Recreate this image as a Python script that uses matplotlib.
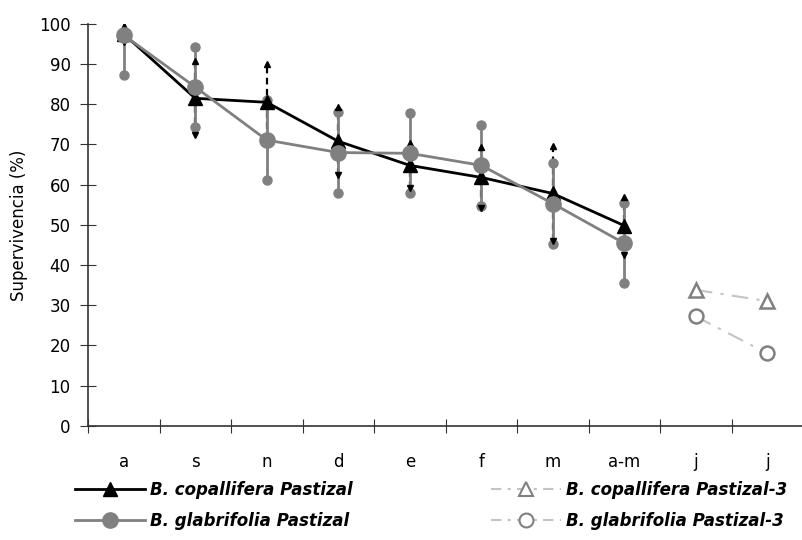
import matplotlib.pyplot as plt
from matplotlib.lines import Line2D

# datos
meses = ['a', 's', 'n', 'd', 'e', 'f', 'm', 'a-m', 'j', 'j']
cop = [97.5, 81.5, 80.5, 70.8, 64.8, 61.8, 57.8, 49.8]
cop_err = [2.0, 9.2, 9.5, 8.5, 5.6, 7.5, 11.8, 7.2]
glab = [97.2, 84.3, 71.1, 68.0, 67.8, 64.8, 55.3, 45.4]
glab_err = [10.0, 10.0, 10.0, 10.0, 10.0, 10.0, 10.0, 10.0]
cop3 = [33.8, 31.0]
glab3 = [27.2, 18.0]

x = list(range(len(meses)))
x1 = x[:8]
x3 = x[8:]

plt.rcParams['font.family'] = 'DejaVu Sans'

fig = plt.figure(figsize=(8.03, 5.40), dpi=100)
ax = fig.add_axes([0.1096, 0.2117, 0.8904, 0.7439])

negro = 'black'
gris = '#808080'
gris_claro = '#c4c4c4'

# B. copallifera Pastizal: barras discontinuas con flechas
eb = ax.errorbar(x1, cop, yerr=cop_err, fmt='none', ecolor=negro,
                 elinewidth=1.6, capsize=0, zorder=2)
eb[2][0].set_linestyle((0, (3, 2)))

# B. glabrifolia Pastizal: barras continuas con puntos
ax.errorbar(x1, glab, yerr=glab_err, fmt='none', ecolor=gris,
            elinewidth=2, capsize=0, zorder=3)
ax.plot(x1, [v + e for v, e in zip(glab, glab_err)], 'o', color=gris, ms=6.5, zorder=3)
ax.plot(x1, [v - e for v, e in zip(glab, glab_err)], 'o', color=gris, ms=6.5, zorder=3)

ax.plot(x1, [v + e for v, e in zip(cop, cop_err)], '^', color=negro, ms=4.5, zorder=3.5)
ax.plot(x1, [v - e for v, e in zip(cop, cop_err)], 'v', color=negro, ms=4.5, zorder=3.5)
ax.plot(x1, cop, '-^', color=negro, lw=2, ms=10, zorder=4)
ax.plot(x1, glab, '-o', color=gris, lw=2, ms=11, zorder=5)

# Pastizal-3
ax.plot(x3, cop3, linestyle=(0, (8, 4, 1.5, 4)), color=gris_claro, lw=1.5, zorder=2)
ax.plot(x3, cop3, '^', mfc='white', mec=gris, mew=1.8, ms=10, zorder=3)
ax.plot(x3, glab3, linestyle=(0, (8, 4, 1.5, 4)), color=gris_claro, lw=1.5, zorder=2)
ax.plot(x3, glab3, 'o', mfc='white', mec=gris, mew=1.8, ms=10, zorder=3)

ax.set_xlim(-0.5, len(meses) - 0.5)
ax.set_ylim(0, 100)
ax.set_yticks(range(0, 101, 10))
ax.set_xticks([i - 0.5 for i in range(len(meses) + 1)], minor=False)
ax.set_xticklabels([])
ax.set_xticks(x, minor=True)
ax.set_xticklabels(meses, minor=True, fontsize=12)
ax.tick_params(axis='x', which='major', direction='inout', length=9.5, color='#333333')
ax.tick_params(axis='x', which='minor', length=0, pad=20)
ax.tick_params(axis='y', direction='inout', length=11, pad=7, labelsize=12, color='#333333')

for s in ['top', 'right']:
    ax.spines[s].set_visible(False)
for s in ['left', 'bottom']:
    ax.spines[s].set_color('#333333')
    ax.spines[s].set_linewidth(1.2)

ax.set_ylabel('Supervivencia (%)', fontsize=12, labelpad=8)

# leyendas
h1 = Line2D([], [], color=negro, lw=2, marker='^', ms=10)
h2 = Line2D([], [], color=gris, lw=2, marker='o', ms=11)
h3 = Line2D([], [], color=gris_claro, lw=1.5, linestyle=(0, (5, 3, 1.5, 3)),
            marker='^', mfc='white', mec=gris, mew=1.5, ms=10)
h4 = Line2D([], [], color=gris_claro, lw=1.5, linestyle=(0, (5, 3, 1.5, 3)),
            marker='o', mfc='white', mec=gris, mew=1.5, ms=10)
fuente = {'size': 12, 'weight': 'bold', 'style': 'italic'}
fig.legend([h1, h2], ['B. copallifera Pastizal', 'B. glabrifolia Pastizal'],
           loc='upper left', bbox_to_anchor=(0.094, 0.11), frameon=False,
           prop=fuente, handlelength=4.2, handletextpad=0.3, labelspacing=0.78,
           borderaxespad=0, borderpad=0)
fig.legend([h3, h4], ['B. copallifera Pastizal-3', 'B. glabrifolia Pastizal-3'],
           loc='upper left', bbox_to_anchor=(0.611, 0.11), frameon=False,
           prop=fuente, handlelength=4.2, handletextpad=0.3, labelspacing=0.78,
           borderaxespad=0, borderpad=0)

fig.savefig('out.png', dpi=100)
